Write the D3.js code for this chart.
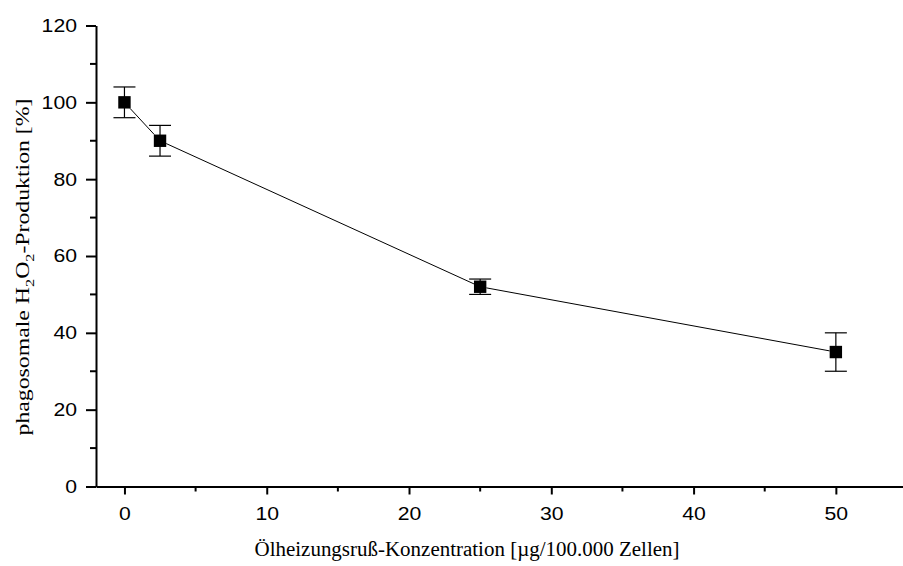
<!DOCTYPE html>
<html>
<head>
<meta charset="utf-8">
<script src="https://cdn.jsdelivr.net/npm/d3@7"></script>
<style>
  body { margin: 0; background: #fff; }
  svg { display: block; }
</style>
</head>
<body>
<svg id="chart" width="903" height="566"></svg>
<script>
// Phagosomal H2O2 production versus oil-heating soot concentration
const concentrations = [0, 2.5, 25, 50];
const production = [100, 90, 52, 35];
const errors = [4, 4, 2, 5];
const xTicks = [0, 10, 20, 30, 40, 50];
const yTicks = [0, 20, 40, 60, 80, 100, 120];

const svg = d3.select("#chart");

const x = d3.scaleLinear().domain([-2, 55]).range([96, 907]);
const y = d3.scaleLinear().domain([0, 120]).range([486.5, 25.5]);

const axisFont = "'Liberation Sans', Arial, sans-serif";
const titleFont = "'Liberation Serif', 'Times New Roman', serif";
const digitWidth = 11.8;

// X axis: major ticks with labels, unlabeled minor ticks in between
const xAxis = svg.append("g").attr("transform", `translate(0,${y(0)})`);
xAxis.call(d3.axisBottom(x).tickValues(xTicks).tickSize(8).tickSizeOuter(0).tickPadding(12))
  .call(g => g.select(".domain").attr("stroke-width", 2));
xAxis.selectAll(".tick line").attr("stroke-width", 2);
xAxis.selectAll(".tick text")
  .attr("font-family", axisFont).attr("font-size", 18.5).attr("fill", "#000")
  .attr("textLength", d => String(d).length * digitWidth)
  .attr("lengthAdjust", "spacingAndGlyphs");
xAxis.append("g").selectAll("line")
  .data(xTicks.map(t => t + 5).filter(t => t < 55))
  .join("line")
  .attr("x1", d => x(d)).attr("x2", d => x(d))
  .attr("y1", 0).attr("y2", 5)
  .attr("stroke", "#000").attr("stroke-width", 2);

// Y axis
const yAxis = svg.append("g").attr("transform", `translate(${x(-2)},0)`);
yAxis.call(d3.axisLeft(y).tickValues(yTicks).tickSize(10).tickSizeOuter(0).tickPadding(9))
  .call(g => g.select(".domain").attr("stroke-width", 2));
yAxis.selectAll(".tick line").attr("stroke-width", 2);
yAxis.selectAll(".tick text")
  .attr("font-family", axisFont).attr("font-size", 18.5).attr("fill", "#000")
  .attr("textLength", d => String(d).length * digitWidth)
  .attr("lengthAdjust", "spacingAndGlyphs");
yAxis.append("g").selectAll("line")
  .data(yTicks.map(t => t + 10).filter(t => t < 120))
  .join("line")
  .attr("x1", 0).attr("x2", -6)
  .attr("y1", d => y(d)).attr("y2", d => y(d))
  .attr("stroke", "#000").attr("stroke-width", 2);

// Data
const pts = concentrations.map((c, i) => ({ c, v: production[i], e: errors[i] }));

// Connecting segments, stopping at the marker edges
const half = 6.2;
for (let i = 0; i < pts.length - 1; i++) {
  const x1 = x(pts[i].c), y1 = y(pts[i].v), x2 = x(pts[i + 1].c), y2 = y(pts[i + 1].v);
  const dx = x2 - x1, dy = y2 - y1, len = Math.hypot(dx, dy);
  const t = Math.min(half / Math.abs(dx / len || 1e-9), half / Math.abs(dy / len || 1e-9));
  svg.append("line")
    .attr("x1", x1 + dx / len * t).attr("y1", y1 + dy / len * t)
    .attr("x2", x2 - dx / len * t).attr("y2", y2 - dy / len * t)
    .attr("stroke", "#000").attr("stroke-width", 1);
}

// Error bars
const cap = 11;
const eb = svg.append("g").attr("stroke", "#000").attr("stroke-width", 1.2);
pts.forEach(p => {
  eb.append("line").attr("x1", x(p.c)).attr("x2", x(p.c)).attr("y1", y(p.v + p.e)).attr("y2", y(p.v - p.e));
  eb.append("line").attr("x1", x(p.c) - cap).attr("x2", x(p.c) + cap).attr("y1", y(p.v + p.e)).attr("y2", y(p.v + p.e));
  eb.append("line").attr("x1", x(p.c) - cap).attr("x2", x(p.c) + cap).attr("y1", y(p.v - p.e)).attr("y2", y(p.v - p.e));
});

// Square markers
svg.append("g").selectAll("rect").data(pts).join("rect")
  .attr("x", d => x(d.c) - half).attr("y", d => y(d.v) - half)
  .attr("width", half * 2).attr("height", half * 2)
  .attr("fill", "#000");

// Axis titles
svg.append("text")
  .attr("x", 467).attr("y", 556)
  .attr("text-anchor", "middle")
  .attr("font-family", titleFont).attr("font-size", 20)
  .attr("textLength", 425).attr("lengthAdjust", "spacingAndGlyphs")
  .text("Ölheizungsruß-Konzentration [µg/100.000 Zellen]");

const yt = svg.append("text")
  .attr("transform", "translate(29,267) rotate(-90)")
  .attr("text-anchor", "middle")
  .attr("font-family", titleFont).attr("font-size", 19)
  .attr("textLength", 337).attr("lengthAdjust", "spacingAndGlyphs");
yt.append("tspan").text("phagosomale H");
yt.append("tspan").attr("font-size", 13).attr("dy", 5).text("2");
yt.append("tspan").attr("dy", -5).text("O");
yt.append("tspan").attr("font-size", 13).attr("dy", 5).text("2");
yt.append("tspan").attr("dy", -5).text("-Produktion [%]");
</script>
</body>
</html>
